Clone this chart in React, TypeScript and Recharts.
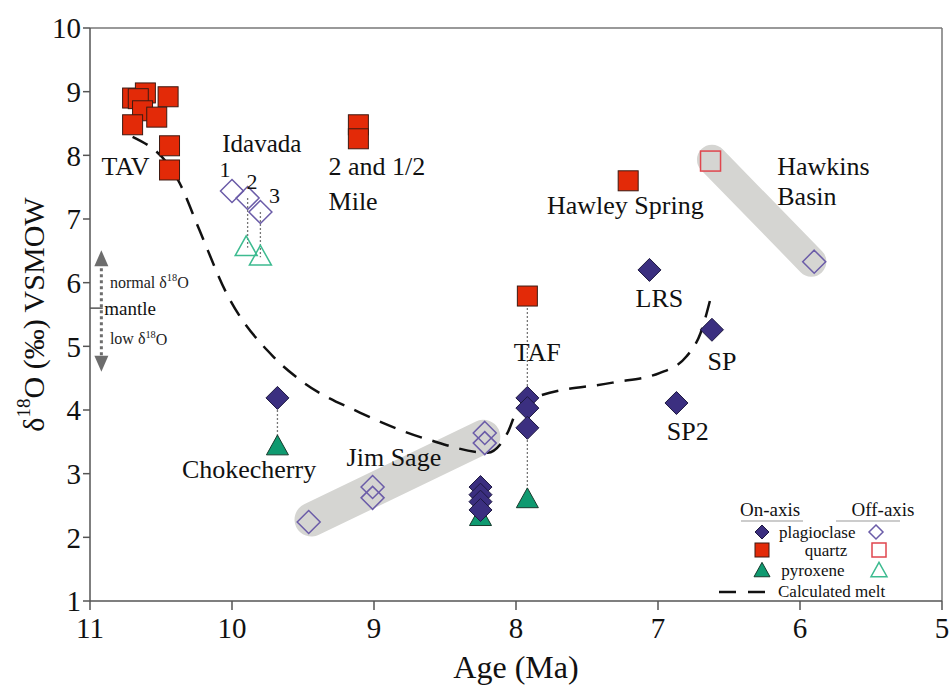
import React from 'react'
import { ComposedChart, Scatter, Line, XAxis, YAxis, ReferenceLine } from 'recharts'

type Pt = { x: number; y: number }
type Note = { x: number; y: number; text: string; anchor?: 'start' | 'middle' | 'end'; size?: number }

const FONT = '"Liberation Serif", "Times New Roman", serif'

// on-axis samples
const quartzOn: Pt[] = [
  { x: 10.70, y: 8.90 }, { x: 10.61, y: 8.98 }, { x: 10.66, y: 8.89 },
  { x: 10.45, y: 8.92 }, { x: 10.63, y: 8.70 }, { x: 10.53, y: 8.60 },
  { x: 10.70, y: 8.48 }, { x: 10.44, y: 8.15 }, { x: 10.44, y: 7.77 },
  { x: 9.11, y: 8.48 }, { x: 9.11, y: 8.26 },
  { x: 7.21, y: 7.60 },
  { x: 7.92, y: 5.79 },
]
const plagOn: Pt[] = [
  { x: 9.68, y: 4.19 },
  { x: 8.25, y: 2.79 }, { x: 8.25, y: 2.67 }, { x: 8.25, y: 2.56 }, { x: 8.25, y: 2.43 },
  { x: 7.92, y: 4.19 }, { x: 7.92, y: 4.03 }, { x: 7.92, y: 3.72 },
  { x: 7.06, y: 6.20 }, { x: 6.62, y: 5.26 }, { x: 6.87, y: 4.11 },
]
const pyxOn: Pt[] = [
  { x: 9.68, y: 3.42 }, { x: 8.25, y: 2.31 }, { x: 7.92, y: 2.59 },
]

// off-axis samples
const quartzOff: Pt[] = [{ x: 6.63, y: 7.91 }]
const plagOff: Pt[] = [
  { x: 10.0, y: 7.44 }, { x: 9.89, y: 7.33 }, { x: 9.80, y: 7.11 },
  { x: 9.46, y: 2.24 }, { x: 9.01, y: 2.79 }, { x: 9.01, y: 2.62 },
  { x: 8.22, y: 3.64 }, { x: 8.22, y: 3.48 },
  { x: 5.90, y: 6.33 },
]
const pyxOff: Pt[] = [{ x: 9.90, y: 6.55 }, { x: 9.80, y: 6.40 }]

const meltCurve: Pt[] = [
  { x: 10.70, y: 8.29 }, { x: 10.37, y: 7.57 }, { x: 10.23, y: 6.83 },
  { x: 10.04, y: 5.84 }, { x: 9.71, y: 4.84 }, { x: 9.52, y: 4.47 },
  { x: 9.10, y: 3.96 }, { x: 8.61, y: 3.53 }, { x: 8.20, y: 3.33 },
  { x: 8.06, y: 3.64 }, { x: 7.99, y: 4.00 }, { x: 7.85, y: 4.21 },
  { x: 7.32, y: 4.43 }, { x: 6.99, y: 4.58 }, { x: 6.80, y: 4.84 },
  { x: 6.70, y: 5.21 }, { x: 6.62, y: 5.84 },
]

const jimSageBand: Pt[] = [{ x: 9.44, y: 2.28 }, { x: 8.23, y: 3.58 }]
const hawkinsBand: Pt[] = [{ x: 6.62, y: 7.93 }, { x: 5.92, y: 6.33 }]

// sample pairs joined by dotted tie lines
const tieLines: [Pt, Pt][] = [
  [{ x: 9.89, y: 7.33 }, { x: 9.89, y: 6.55 }],
  [{ x: 9.80, y: 7.11 }, { x: 9.80, y: 6.40 }],
  [{ x: 9.68, y: 4.19 }, { x: 9.68, y: 3.42 }],
  [{ x: 7.92, y: 5.79 }, { x: 7.92, y: 2.59 }],
  [{ x: 8.25, y: 2.79 }, { x: 8.25, y: 2.31 }],
]

const notes: Note[] = [
  { x: 10.75, y: 7.82, text: 'TAV' },
  { x: 9.79, y: 8.19, text: 'Idavada', size: 25 },
  { x: 10.05, y: 7.78, text: '1', size: 22 },
  { x: 9.86, y: 7.59, text: '2', size: 22 },
  { x: 9.70, y: 7.37, text: '3', size: 22 },
  { x: 9.32, y: 7.83, text: '2 and 1/2', anchor: 'start' },
  { x: 9.32, y: 7.27, text: 'Mile', anchor: 'start' },
  { x: 7.23, y: 7.21, text: 'Hawley Spring' },
  { x: 6.16, y: 7.83, text: 'Hawkins', anchor: 'start' },
  { x: 6.16, y: 7.36, text: 'Basin', anchor: 'start' },
  { x: 6.99, y: 5.75, text: 'LRS' },
  { x: 6.55, y: 4.76, text: 'SP' },
  { x: 6.79, y: 3.66, text: 'SP2' },
  { x: 7.85, y: 4.90, text: 'TAF' },
  { x: 8.86, y: 3.25, text: 'Jim Sage' },
  { x: 9.88, y: 3.06, text: 'Chokecherry' },
  { x: 10.90, y: 5.60, text: 'mantle', anchor: 'start', size: 19 },
]
const isotopeNotes: Note[] = [
  { x: 10.86, y: 6.01, text: 'normal δ', anchor: 'start', size: 16 },
  { x: 10.86, y: 5.12, text: 'low δ', anchor: 'start', size: 16 },
]

const xTicks = [11, 10, 9, 8, 7, 6, 5]
const yTicks = [1, 2, 3, 4, 5, 6, 7, 8, 9, 10]
const mantleTick: [Pt, Pt] = [{ x: 11, y: 5.6 }, { x: 10.91, y: 5.6 }]
const mantleArrow: [Pt, Pt] = [{ x: 10.92, y: 6.51 }, { x: 10.92, y: 4.6 }]

const C = {
  plag: '#3b2f80', plagEdge: '#1d1840', plagOpen: '#6b5ca8',
  qtz: '#e32a08', qtzEdge: '#3d1a12', qtzOpen: '#e0464e',
  pyx: '#0f9a70', pyxEdge: '#173b2d', pyxOpen: '#3dbb90',
}

function diamond(cx: number, cy: number, r: number) {
  return `M${cx},${cy - r}L${cx + r},${cy}L${cx},${cy + r}L${cx - r},${cy}Z`
}
function triangle(cx: number, cy: number, w: number) {
  const h = w * 0.9
  return `M${cx},${cy - h * 0.6}L${cx + w / 2},${cy + h * 0.4}L${cx - w / 2},${cy + h * 0.4}Z`
}

const Diamond = (fill: string, stroke: string, sw: number) => (p: any) =>
  <path d={diamond(p.cx, p.cy, 11.5)} fill={fill} stroke={stroke} strokeWidth={sw} />
const Square = (fill: string, stroke: string, sw: number) => (p: any) =>
  <rect x={p.cx - 10} y={p.cy - 10} width={20} height={20} fill={fill} stroke={stroke} strokeWidth={sw} />
const Triangle = (fill: string, stroke: string, sw: number) => (p: any) =>
  <path d={triangle(p.cx, p.cy, 22)} fill={fill} stroke={stroke} strokeWidth={sw} />

const NoteText = (p: any) => {
  const n: Note = p.payload
  return (
    <text x={p.cx} y={p.cy} textAnchor={n.anchor ?? 'middle'} dominantBaseline="central"
      fontFamily={FONT} fontSize={n.size ?? 26} fill="#111">
      {n.text}
    </text>
  )
}

// "δ18O" needs a raised 18
const IsotopeText = (p: any) => {
  const n: Note = p.payload
  const s = n.size ?? 16
  return (
    <text x={p.cx} y={p.cy} textAnchor="start" dominantBaseline="central" fontFamily={FONT} fontSize={s} fill="#222">
      {n.text}
      <tspan dy={-5} fontSize={s * 0.65}>18</tspan>
      <tspan dy={5}>O</tspan>
    </text>
  )
}

const ArrowShape = (p: any) => {
  const { x1, y1, x2, y2 } = p
  const col = '#6d6d6d'
  return (
    <g>
      <line x1={x1} y1={y1 + 12} x2={x2} y2={y2 - 12} stroke={col} strokeWidth={3} strokeDasharray="3 3" />
      <path d={`M${x1},${y1}L${x1 + 7},${y1 + 16}L${x1 - 7},${y1 + 16}Z`} fill={col} />
      <path d={`M${x2},${y2}L${x2 + 7},${y2 - 16}L${x2 - 7},${y2 - 16}Z`} fill={col} />
    </g>
  )
}

const YTitle = (p: any) => {
  const vb = p.viewBox
  const cx = 33
  const cy = vb.y + vb.height / 2
  return (
    <text x={cx} y={cy} transform={`rotate(-90 ${cx} ${cy})`} textAnchor="middle" dominantBaseline="central"
      fontFamily={FONT} fontSize={30} fill="#111">
      δ<tspan dy={-10} fontSize={19}>18</tspan><tspan dy={10}>O (‰) VSMOW</tspan>
    </text>
  )
}

function LegendBox() {
  const t = { fontFamily: FONT, fontSize: 17, fill: '#111' }
  return (
    <svg width={240} height={110} style={{ position: 'absolute', left: 705, top: 496 }}>
      <text x={65} y={20} textAnchor="middle" {...t} fontSize={19}>On-axis</text>
      <line x1={36} y1={25} x2={98} y2={25} stroke="#999" />
      <text x={178} y={20} textAnchor="middle" {...t} fontSize={19}>Off-axis</text>
      <line x1={131} y1={25} x2={195} y2={25} stroke="#999" />
      <path d={diamond(57, 36, 7)} fill={C.plag} stroke={C.plagEdge} />
      <text x={74} y={36} dominantBaseline="central" {...t}>plagioclase</text>
      <path d={diamond(171, 36, 7)} fill="none" stroke={C.plagOpen} strokeWidth={1.5} />
      <rect x={50} y={47} width={14} height={14} fill={C.qtz} stroke={C.qtzEdge} />
      <text x={121} y={54} textAnchor="middle" dominantBaseline="central" {...t}>quartz</text>
      <rect x={167} y={47} width={14} height={14} fill="none" stroke={C.qtzOpen} strokeWidth={1.5} />
      <path d={triangle(57, 75, 16)} fill={C.pyx} stroke={C.pyxEdge} />
      <text x={108} y={74} textAnchor="middle" dominantBaseline="central" {...t}>pyroxene</text>
      <path d={triangle(174, 75, 16)} fill="none" stroke={C.pyxOpen} strokeWidth={1.5} />
      <line x1={14} y1={96} x2={64} y2={96} stroke="#111" strokeWidth={2.5} strokeDasharray="17 12" />
      <text x={73} y={95} dominantBaseline="central" {...t}>Calculated melt</text>
    </svg>
  )
}

export default function App() {
  const tick = { fontFamily: FONT, fontSize: 29, fill: '#111' }
  return (
    <div style={{ position: 'absolute', left: 0, top: 0, width: 952, height: 685, background: '#fff' }}>
      <ComposedChart width={952} height={685} margin={{ top: 28, right: 10, bottom: 0, left: 0 }}>
        <XAxis type="number" dataKey="x" domain={[5, 11]} reversed ticks={xTicks} interval={0}
          allowDataOverflow height={84} tick={tick} tickSize={9} tickMargin={7}
          stroke="#555" strokeWidth={1.5}
          label={{ value: 'Age (Ma)', position: 'insideBottom', offset: 7, style: { fontFamily: FONT, fontSize: 32, fill: '#111' } }} />
        <YAxis type="number" dataKey="y" domain={[1, 10]} ticks={yTicks} interval={0}
          allowDataOverflow width={90} tick={tick} tickSize={7} tickMargin={2}
          stroke="#555" strokeWidth={1.5} label={<YTitle />} />
        <ReferenceLine y={10} stroke="#777" strokeWidth={1.5} />
        <ReferenceLine x={5} stroke="#777" strokeWidth={1.5} />

        <Line data={jimSageBand} dataKey="y" stroke="#d5d5d2" strokeWidth={34} strokeLinecap="round"
          dot={false} activeDot={false} isAnimationActive={false} />
        <Line data={hawkinsBand} dataKey="y" stroke="#d5d5d2" strokeWidth={30} strokeLinecap="round"
          dot={false} activeDot={false} isAnimationActive={false} />
        <Line data={meltCurve} dataKey="y" type="monotone" stroke="#111" strokeWidth={2.5}
          strokeDasharray="17 11" dot={false} activeDot={false} isAnimationActive={false} />

        {tieLines.map((seg, i) => (
          <ReferenceLine key={i} segment={seg} stroke="#777" strokeWidth={1.3} strokeDasharray="2 2" />
        ))}
        <ReferenceLine segment={mantleTick} stroke="#555" strokeWidth={1.5} />
        <ReferenceLine segment={mantleArrow} shape={ArrowShape} />

        <Scatter data={pyxOn} shape={Triangle(C.pyx, C.pyxEdge, 1)} isAnimationActive={false} />
        <Scatter data={pyxOff} shape={Triangle('none', C.pyxOpen, 1.5)} isAnimationActive={false} />
        <Scatter data={plagOn} shape={Diamond(C.plag, C.plagEdge, 1)} isAnimationActive={false} />
        <Scatter data={plagOff} shape={Diamond('none', C.plagOpen, 1.5)} isAnimationActive={false} />
        <Scatter data={quartzOn} shape={Square(C.qtz, C.qtzEdge, 1)} isAnimationActive={false} />
        <Scatter data={quartzOff} shape={Square('none', C.qtzOpen, 1.5)} isAnimationActive={false} />

        <Scatter data={notes} shape={NoteText} isAnimationActive={false} />
        <Scatter data={isotopeNotes} shape={IsotopeText} isAnimationActive={false} />
      </ComposedChart>
      <LegendBox />
    </div>
  )
}
